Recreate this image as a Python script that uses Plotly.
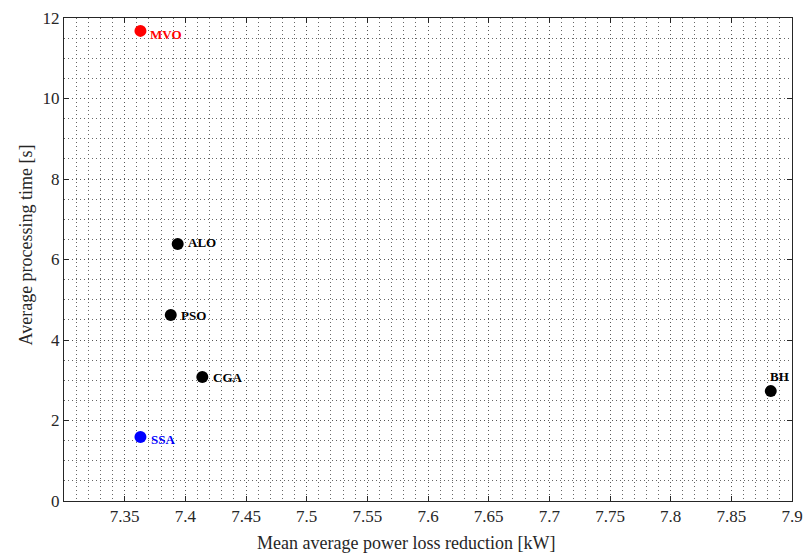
import plotly.graph_objects as go

algorithms = ["MVO", "ALO", "PSO", "CGA", "BH", "SSA"]
power_loss_reduction = [7.363, 7.3937, 7.388, 7.414, 7.8825, 7.363]
processing_time = [11.68, 6.385, 4.62, 3.08, 2.73, 1.59]
point_colors = ["#ff0000", "#000000", "#000000", "#000000", "#000000", "#0000ff"]

x_tickvals = [7.35, 7.4, 7.45, 7.5, 7.55, 7.6, 7.65, 7.7, 7.75, 7.8, 7.85, 7.9]
x_ticktext = ["7.35", "7.4", "7.45", "7.5", "7.55", "7.6", "7.65", "7.7", "7.75", "7.8", "7.85", "7.9"]
y_tickvals = [0, 2, 4, 6, 8, 10, 12]

x_title = "Mean average power loss reduction [kW]"
y_title = "Average processing time [s]"

# label placement (style only)
label_xshift = [8, 8, 8, 9, 9, 9]
label_yshift = [-4, 2, 0, 0, 15, -2]
label_xanchor = ["left", "left", "left", "left", "center", "left"]

SERIF = "Liberation Serif, Times New Roman, serif"

fig = go.Figure()
fig.add_trace(go.Scatter(
    x=power_loss_reduction, y=processing_time, mode="markers",
    marker=dict(size=12, color=point_colors, line=dict(width=0)),
    showlegend=False, hoverinfo="skip", cliponaxis=False,
))

for i, name in enumerate(algorithms):
    fig.add_annotation(
        x=power_loss_reduction[i], y=processing_time[i], text="<b>%s</b>" % name,
        showarrow=False, xanchor=label_xanchor[i], yanchor="middle",
        xshift=label_xshift[i], yshift=label_yshift[i],
        font=dict(family=SERIF, size=13, color=point_colors[i]),
    )

# axis titles (positioned as in the reference)
fig.add_annotation(
    x=0.5, y=0, xref="paper", yref="paper", text=x_title, showarrow=False,
    xanchor="center", yanchor="middle", xshift=-22, yshift=-42,
    font=dict(family=SERIF, size=18, color="#262626"),
)
fig.add_annotation(
    x=0, y=0.5, xref="paper", yref="paper", text=y_title, showarrow=False,
    textangle=-90, xanchor="center", yanchor="middle", xshift=-39, yshift=14,
    font=dict(family=SERIF, size=18, color="#262626"),
)

axis_common = dict(
    showline=True, linecolor="#262626", linewidth=1, mirror="ticks",
    ticks="inside", ticklen=5, tickcolor="#262626", tickwidth=1,
    showgrid=True, gridcolor="#555555", gridwidth=1, griddash="1px,3px",
    zeroline=False, automargin=False,
    tickfont=dict(family=SERIF, size=17, color="#262626"),
)

fig.update_xaxes(
    range=[7.3, 7.9], tickvals=x_tickvals, ticktext=x_ticktext,
    minor=dict(dtick=0.01, tick0=7.3, showgrid=True, gridcolor="#666666",
               griddash="1px,3px", gridwidth=1, ticks=""),
    **axis_common,
)
fig.update_yaxes(
    range=[0, 12], tickvals=y_tickvals,
    minor=dict(dtick=0.5, tick0=0, showgrid=True, gridcolor="#666666",
               griddash="1px,3px", gridwidth=1, ticks=""),
    **axis_common,
)

fig.update_layout(
    width=805, height=553,
    margin=dict(l=64, r=13, t=18, b=52),
    plot_bgcolor="white", paper_bgcolor="white",
    font=dict(family=SERIF, color="#262626"),
)

fig.write_html(
    "out.html",
    config={"displayModeBar": False},
    post_script="document.body.style.margin='0';document.body.style.overflow='hidden';",
)
